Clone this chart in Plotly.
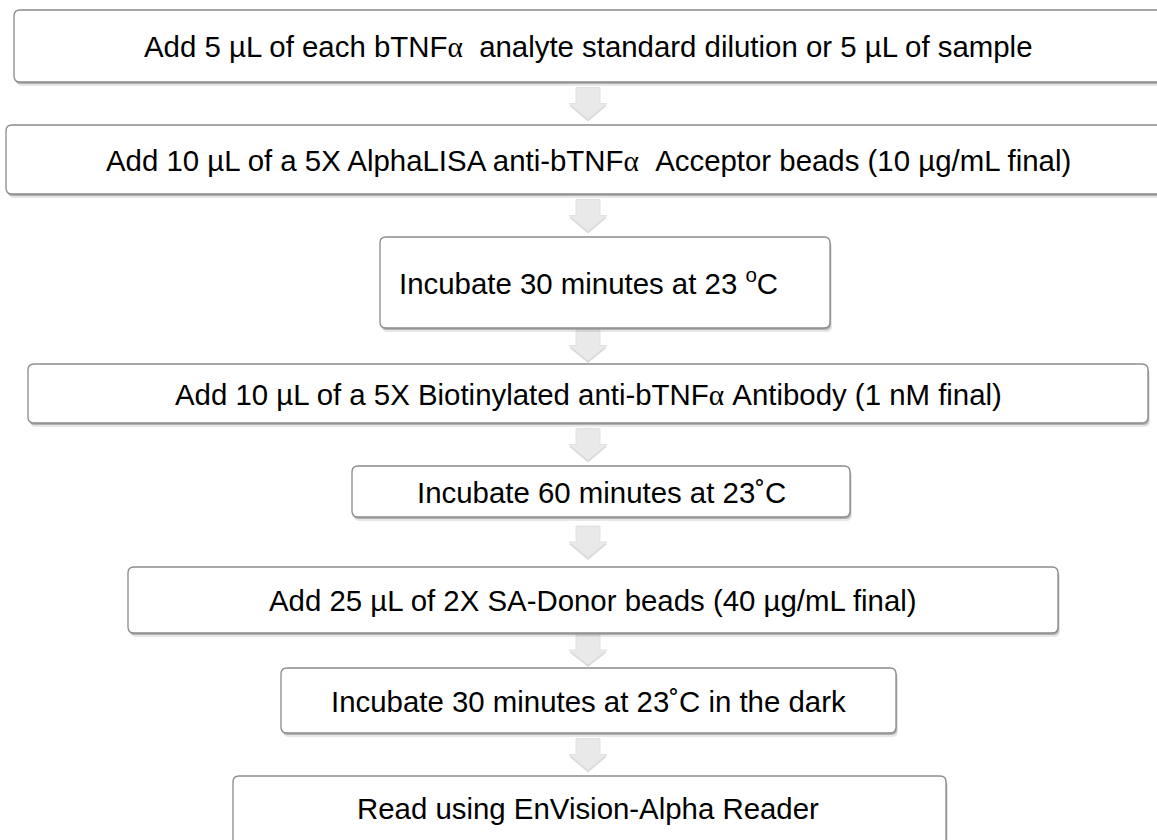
import plotly.graph_objects as go

# ---- content ----
ALPHA = '<span style="font-family:\'Liberation Serif\', \'DejaVu Serif\', serif">α</span>'
steps = [
    f"Add 5 µL of each bTNF{ALPHA}  analyte standard dilution or 5 µL of sample",
    f"Add 10 µL of a 5X AlphaLISA anti-bTNF{ALPHA}  Acceptor beads (10 µg/mL final)",
    "Incubate 30 minutes at 23 <sup>o</sup>C",
    f"Add 10 µL of a 5X Biotinylated anti-bTNF{ALPHA} Antibody (1 nM final)",
    "Incubate 60 minutes at 23˚C",
    "Add 25 µL of 2X SA-Donor beads (40 µg/mL final)",
    "Incubate 30 minutes at 23˚C in the dark",
    "Read using EnVision-Alpha Reader",
]

# ---- layout geometry (pixels) ----
box_x0 = [14, 6, 380, 28, 352, 128, 281, 233]
box_x1 = [1170, 1170, 830, 1148, 850, 1058, 896, 946]
box_y0 = [10, 125, 237, 364, 466, 567, 668, 776]
box_y1 = [82, 194, 328, 423, 517, 633, 733, 850]
text_x = [588, 588, 588, 588, 601, 593, 588, 588]
text_y = [46, 160, 281, 394, 492, 600, 701, 808]

W, H = 1157, 840
R = 6
ARROW_X = 588


def rrect(x0, y0, x1, y1, r):
    return (f"M {x0+r},{y0} L {x1-r},{y0} Q {x1},{y0} {x1},{y0+r} "
            f"L {x1},{y1-r} Q {x1},{y1} {x1-r},{y1} L {x0+r},{y1} "
            f"Q {x0},{y1} {x0},{y1-r} L {x0},{y0+r} Q {x0},{y0} {x0+r},{y0} Z")


def arrow(cx, top, bottom):
    sw, hw = 12, 19
    hy = top + (bottom - top) * 0.5
    return (f"M {cx-sw},{top} L {cx+sw},{top} L {cx+sw},{hy} L {cx+hw},{hy} "
            f"L {cx},{bottom} L {cx-hw},{hy} L {cx-sw},{hy} Z")


shapes = []
# arrows
for i in range(len(steps) - 1):
    g0, g1 = box_y1[i], box_y0[i + 1]
    mid = (g0 + g1) / 2
    top, bot = mid - 16, mid + 16
    top = max(top, g0 + 2)
    bot = min(bot, g1 - 3)
    shapes.append(dict(type="path", path=arrow(ARROW_X, top + 2, bot + 2), xref="x", yref="y",
                       fillcolor="rgba(150,150,150,0.35)", line=dict(width=0), layer="below"))
    shapes.append(dict(type="path", path=arrow(ARROW_X, top, bot), xref="x", yref="y",
                       fillcolor="#e9e9e9", line=dict(color="#dcdcdc", width=0.8), layer="below"))

# boxes
for x0, x1, y0, y1 in zip(box_x0, box_x1, box_y0, box_y1):
    shapes.append(dict(type="path", path=rrect(x0 + 2, y0 + 4, x1 + 2, y1 + 4, R), xref="x", yref="y",
                       fillcolor="rgba(120,120,120,0.18)", line=dict(width=0), layer="below"))
    shapes.append(dict(type="path", path=rrect(x0 + 1, y0 + 2, x1 + 1, y1 + 2, R), xref="x", yref="y",
                       fillcolor="rgba(110,110,110,0.45)", line=dict(width=0), layer="below"))
    shapes.append(dict(type="path", path=rrect(x0, y0, x1, y1, R), xref="x", yref="y",
                       fillcolor="white", line=dict(color="#8a8a8a", width=1.3), layer="below"))

annotations = []
for i, s in enumerate(steps):
    annotations.append(dict(x=text_x[i], y=text_y[i],
                            xref="x", yref="y", text=s, showarrow=False,
                            xanchor="center", yanchor="middle",
                            font=dict(family="Liberation Sans, Arial, sans-serif", size=29.4, color="black")))

fig = go.Figure()
fig.add_trace(go.Scatter(x=[0, W], y=[0, H], mode="markers", marker=dict(opacity=0), hoverinfo="skip",
                         showlegend=False))
fig.update_layout(
    width=W, height=H, margin=dict(l=0, r=0, t=0, b=0),
    paper_bgcolor="white", plot_bgcolor="white",
    xaxis=dict(range=[0, W], visible=False, fixedrange=True),
    yaxis=dict(range=[H, 0], visible=False, fixedrange=True),
    shapes=shapes, annotations=annotations, showlegend=False,
)
fig.write_html("out.html", config={"displayModeBar": False},
               post_script="document.body.style.margin='0';document.body.style.overflow='hidden';")
